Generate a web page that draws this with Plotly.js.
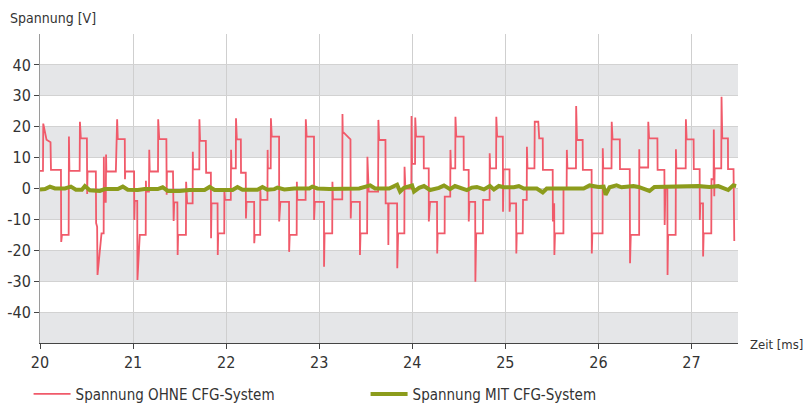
<!DOCTYPE html>
<html>
<head>
<meta charset="utf-8">
<script src="https://cdn.plot.ly/plotly-3.0.1.min.js"></script>
<style>html,body{margin:0;padding:0;background:#fff;}#chart{width:805px;height:403px;}</style>
</head>
<body>
<div id="chart"></div>
<script>
// Zeit [ms] and Spannung [V] — OHNE CFG-System
const timeOhne = [20.000,20.032,20.035,20.057,20.070,20.113,20.118,20.225,20.228,20.236,20.308,20.311,20.316,20.426,20.429,20.439,20.504,20.507,20.511,20.600,20.603,20.614,20.618,20.661,20.684,20.686,20.689,20.707,20.710,20.713,20.815,20.829,20.836,20.911,20.913,20.916,21.011,21.013,21.018,21.045,21.047,21.072,21.136,21.138,21.141,21.171,21.174,21.179,21.268,21.270,21.281,21.358,21.361,21.364,21.429,21.436,21.442,21.476,21.479,21.484,21.568,21.570,21.581,21.640,21.642,21.645,21.712,21.713,21.720,21.782,21.785,21.836,21.838,21.843,21.908,21.910,21.915,21.980,21.981,21.988,22.050,22.053,22.058,22.104,22.106,22.115,22.158,22.160,22.211,22.213,22.219,22.301,22.302,22.308,22.366,22.367,22.372,22.444,22.446,22.449,22.479,22.481,22.490,22.569,22.570,22.583,22.676,22.677,22.683,22.758,22.760,22.765,22.854,22.856,22.865,22.944,22.945,22.953,23.051,23.052,23.058,23.140,23.142,23.148,23.248,23.250,23.253,23.336,23.339,23.344,23.437,23.438,23.444,23.515,23.518,23.532,23.633,23.636,23.644,23.712,23.714,23.741,23.743,23.746,23.837,23.839,23.848,23.915,23.917,23.926,23.990,23.992,23.998,24.030,24.032,24.041,24.123,24.124,24.177,24.178,24.191,24.266,24.268,24.273,24.348,24.349,24.408,24.410,24.416,24.462,24.464,24.473,24.552,24.553,24.606,24.607,24.614,24.676,24.678,24.687,24.759,24.761,24.831,24.832,24.837,24.901,24.903,24.912,24.973,24.975,24.981,25.045,25.046,25.051,25.116,25.118,25.123,25.187,25.190,25.230,25.232,25.238,25.313,25.316,25.354,25.364,25.402,25.404,25.509,25.511,25.525,25.527,25.534,25.624,25.625,25.659,25.661,25.667,25.759,25.761,25.770,25.831,25.833,25.927,25.929,25.935,26.045,26.047,26.052,26.141,26.143,26.152,26.230,26.232,26.337,26.340,26.348,26.438,26.439,26.441,26.535,26.536,26.545,26.634,26.636,26.709,26.712,26.720,26.741,26.743,26.749,26.830,26.833,26.838,26.938,26.940,26.948,27.023,27.025,27.088,27.090,27.095,27.124,27.125,27.131,27.213,27.215,27.238,27.240,27.245,27.249,27.320,27.323,27.331,27.392,27.393,27.452,27.454,27.460];
const voltOhne = [5.7,5.7,21,16.8,15.8,15,6,6,-17.3,-15,-15,16.8,5.7,5.7,21.6,16.2,16.2,-1.8,5.5,5.5,-11.2,-12.4,-28,-14.5,-14.5,10.3,-4.3,-4.3,11,5.5,5.5,22.4,16,16,3,5.5,5.5,-10.2,-4,-4,-29.6,-15,-15,2.5,-1,-1,12.5,5.5,5.5,22.4,16,16,-2,5.5,5.5,-10.5,-4.5,-4.5,-21.5,-15,-15,2.2,-4.8,-4.8,11.9,6.2,6.2,22.4,15.4,15.4,5.1,5.1,-16.1,-4.8,-4.8,-21.5,-14.5,-14.5,-0.5,-3.7,-3.7,12.5,6.5,6.5,22.7,15.9,15.9,5.1,5.1,-9.7,-4.3,-4.3,-17.7,-15,-15,0,-3.7,-3.7,12.5,6.5,6.5,22.7,16.8,16.8,-10.7,-4.3,-4.3,-20.5,-15,-15,2.2,-3.7,-3.7,22.4,16.8,16.8,-10.2,-4.3,-4.3,-25.3,-14.5,-14.5,2.2,-3.5,-3.5,24.1,18.4,15.9,-9.7,-4.3,-4.3,-21.5,-14.5,-14.5,10.3,-1,-1,22.2,15.7,15.7,-4.8,-4.8,-18.3,-4.8,-4.8,-25.8,-14.5,-14.5,7,0,0,23.5,8,8,23,16.8,16.8,6.5,6.5,-10.7,-4.3,-4.3,-21,-14.5,-14.5,-2.6,-2.6,12.5,6.5,6.5,23.2,16.8,16.8,6,6,-10.7,-4.3,-4.3,-30.2,-14.5,-14.5,-3.7,-3.7,11.4,6.5,6.5,23.2,16.8,16.8,-7.5,6.2,6.2,-7.5,-4.8,-4.8,-21,-14.5,-14.5,-3.7,-3.7,13.5,6.5,6.5,21.6,21.6,16.2,16.2,6,6,-10.7,-4.8,-21.5,-14.5,-14.5,0,0,12.5,6.5,6.5,26.7,15.7,15.7,6,6,-21,-14.5,-14.5,13,6.5,6.5,21.6,15.9,15.9,6.3,6.3,-24.2,-15,-15,12.7,6.8,6.8,21.6,16.2,16.2,6,6,-11.8,0,0,-28,-15,-15,12.7,6.5,6.5,22.4,15.9,15.9,6.3,6.3,-10.2,-4.8,-4.8,-22,-14.5,-14.5,3,3,19.1,-2.5,6.5,6.5,29.7,16.2,16.2,6.3,6.3,-16.7,-17];

// MIT CFG-System
const timeMit = [20.000,20.054,20.107,20.161,20.268,20.332,20.386,20.450,20.482,20.536,20.643,20.697,20.836,20.890,20.943,21.050,21.125,21.265,21.318,21.372,21.501,21.608,21.768,21.822,21.876,22.069,22.122,22.176,22.337,22.390,22.444,22.519,22.551,22.626,22.733,22.894,22.926,22.980,23.108,23.269,23.430,23.548,23.601,23.751,23.837,23.869,23.912,23.998,24.019,24.073,24.126,24.191,24.287,24.341,24.405,24.459,24.523,24.587,24.641,24.694,24.770,24.834,24.877,24.930,24.984,25.091,25.145,25.198,25.338,25.402,25.445,25.841,25.906,26.002,26.056,26.077,26.120,26.195,26.249,26.377,26.431,26.549,26.602,26.752,26.966,27.074,27.192,27.288,27.395,27.448,27.480];
const voltMit = [-0.3,-0.2,0.6,0,0,0.6,-0.4,-0.4,0.8,-0.6,-0.8,-0.2,-0.2,0.6,-0.4,-0.5,-0.2,-0.2,0.4,-0.8,-0.8,-0.5,-0.5,0.5,-0.5,-0.5,0.5,-0.4,-0.4,0.5,-0.4,-0.2,0.3,-0.3,0,0,0.6,0,-0.2,0,0,1.0,0,0,1.2,-1,0.2,1,-1,0.2,0.8,-0.5,0.2,1,-0.2,0.8,0.3,-0.5,0.3,0.5,-0.3,0.8,-0.3,0.8,0.4,0.4,0.8,0,0,-1.3,0,0,1,0.5,0.6,-2,0.4,1.0,0.4,0.8,0.5,-0.8,0.5,0.6,0.6,0.8,0.5,0.8,-0.5,1,0.8];

const xTicks = [20,21,22,23,24,25,26,27];
const yTicks = [-40,-30,-20,-10,0,10,20,30,40];
const bandRanges = [[30,40],[10,20],[-10,0],[-30,-20],[-50,-40]];

const labelOhne = 'Spannung OHNE CFG-System';
const labelMit = 'Spannung MIT CFG-System';
const yTitle = 'Spannung [V]';
const xTitle = 'Zeit [ms]';

const FONT = '"DejaVu Sans Condensed", "Liberation Sans Narrow", sans-serif';

const traces = [
  {x: timeOhne, y: voltOhne, type: 'scatter', mode: 'lines', name: labelOhne,
   line: {color: '#f05a6a', width: 1.8}},
  {x: timeMit, y: voltMit, type: 'scatter', mode: 'lines', name: labelMit,
   line: {color: '#8c9c1c', width: 4}}
];

const shapes = bandRanges.map(b => ({
  type: 'rect', xref: 'paper', yref: 'y', x0: 0, x1: 1, y0: b[0], y1: b[1],
  fillcolor: '#e5e6e8', line: {width: 0}, layer: 'below'
}));

const layout = {
  width: 805, height: 403,
  margin: {l: 40, r: 67, t: 34, b: 60, autoexpand: false},
  paper_bgcolor: '#ffffff', plot_bgcolor: '#ffffff',
  font: {family: FONT, color: '#333333', size: 16},
  showlegend: true,
  legend: {orientation: 'h', xref: 'container', yref: 'container',
           x: 0.0355, xanchor: 'left', y: 0.022, yanchor: 'middle',
           itemwidth: 37,
           font: {size: 15, color: '#333333'}, entrywidth: 285, entrywidthmode: 'pixels',
           bgcolor: 'rgba(0,0,0,0)'},
  xaxis: {range: [20, 27.5], tickvals: xTicks, ticktext: xTicks.map(String),
          showgrid: true, gridcolor: '#cfcfcf', gridwidth: 1, zeroline: false,
          showline: true, linecolor: '#444444', linewidth: 1,
          ticks: 'outside', ticklen: 5, tickcolor: '#444444',
          tickfont: {size: 16, color: '#333333'}},
  yaxis: {range: [-50, 50], tickvals: yTicks, ticktext: yTicks.map(String),
          showgrid: true, gridcolor: '#d2d2d2', gridwidth: 1, zeroline: false,
          showline: true, linecolor: '#9a9a9a', linewidth: 1,
          ticks: 'outside', ticklen: 5, tickcolor: '#444444',
          tickfont: {size: 16, color: '#333333'}},
  shapes: shapes,
  annotations: [
    {text: yTitle, xref: 'paper', yref: 'paper', x: -0.046, y: 1.052, xanchor: 'left', yanchor: 'middle',
     showarrow: false, font: {size: 14, color: '#333333'}},
    {text: xTitle, xref: 'paper', yref: 'paper', x: 1.0143, y: -0.006, xanchor: 'left', yanchor: 'middle',
     showarrow: false, font: {size: 13, color: '#333333'}}
  ]
};

Plotly.newPlot('chart', traces, layout, {displayModeBar: false, staticPlot: true});
</script>
</body>
</html>
